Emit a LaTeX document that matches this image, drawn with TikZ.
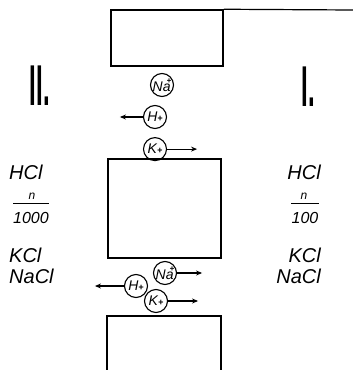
\documentclass[tikz,border=0pt]{standalone}
\usepackage{fontspec}
\setsansfont{Liberation Sans}
\usepackage{tikz}
\usetikzlibrary{positioning, arrows.meta}

\begin{document}
\begin{tikzpicture}[
    x=1pt, y=-1pt,
    wall/.style={draw, rectangle, line width=1.5pt, inner sep=0pt},
    ion/.style={draw, circle, line width=1.1pt, inner sep=0pt, minimum size=23pt, font=\sffamily\itshape\fontsize{14}{14}\selectfont},
    chem/.style={font=\sffamily\itshape\fontsize{20}{20}\selectfont, inner sep=0pt},
    conc/.style={font=\sffamily\itshape\fontsize{16}{16}\selectfont, inner sep=0pt},
    norm/.style={font=\sffamily\itshape\fontsize{12}{12}\selectfont, inner sep=0pt},
    side/.style={font=\sffamily\bfseries\fontsize{24}{24}\selectfont, inner sep=0pt},
    arr/.style={-{Stealth[length=6pt, width=5pt]}, line width=1.2pt}
]
    \useasboundingbox (0,0) rectangle (353,370);

    \node[wall, minimum width=112pt, minimum height=56pt] (topwall) at (167,38) {};
    \node[wall, minimum width=113pt, minimum height=99pt] (midwall) at (164.5,208.5) {};
    \draw[line width=1.5pt] (107,375) -- (107,316) -- (221,316) -- (221,375);
    \coordinate (edge) at (353,10);
    \draw[line width=1.2pt] (topwall.north east) -- (edge);

    \node[ion] (na1) at (162,85) {Na\raisebox{8pt}{\kern-4pt\fontsize{8}{8}\selectfont\textbf{+}}};
    \node[ion] (h1) at (155,117) {H\fontsize{9}{9}\selectfont\textbf{+}};
    \node[ion] (k1) [below=8pt of h1] {K\fontsize{9}{9}\selectfont\textbf{+}};
    \coordinate[left=23pt of h1] (h1end);
    \coordinate[right=30pt of k1] (k1end);
    \draw[arr] (h1) -- (h1end);
    \draw[arr] (k1) -- (k1end);

    \node[ion] (na2) at (165,273) {Na\raisebox{8pt}{\kern-4pt\fontsize{8}{8}\selectfont\textbf{+}}};
    \node[ion] (h2) at (136,286) {H\fontsize{9}{9}\selectfont\textbf{+}};
    \node[ion] (k2) at (156,301) {K\fontsize{9}{9}\selectfont\textbf{+}};
    \coordinate[right=25pt of na2] (na2end);
    \coordinate[left=29pt of h2] (h2end);
    \coordinate[right=30pt of k2] (k2end);
    \draw[arr] (na2) -- (na2end);
    \draw[arr] (h2) -- (h2end);
    \draw[arr] (k2) -- (k2end);

    \node[side] (two) at (40,86) {\scalebox{1}[2.4]{II.}};
    \node[side] (one) at (308,87) {\scalebox{1}[2.4]{I.}};

    \node[chem, anchor=west] (lhcl) at (9,172) {HCl};
    \node[conc] (lden) at (31,218) {1000};
    \node[norm] (ln) at (32,196) {n};
    \draw[line width=1.2pt] ([yshift=9pt]lden.north west) -- ([yshift=9pt]lden.north east);
    \node[chem, anchor=west] (lkcl) at (9,255) {KCl};
    \node[chem, anchor=west] (lnacl) at (9,276) {NaCl};

    \node[chem, anchor=east] (rhcl) at (321,172) {HCl};
    \node[conc] (rden) at (305,218) {100};
    \node[norm] (rn) at (304,196) {n};
    \draw[line width=1.2pt] ([yshift=9pt]rden.north west) -- ([yshift=9pt]rden.north east);
    \node[chem, anchor=east] (rkcl) at (321,255) {KCl};
    \node[chem, anchor=east] (rnacl) at (321,276) {NaCl};
\end{tikzpicture}
\end{document}
